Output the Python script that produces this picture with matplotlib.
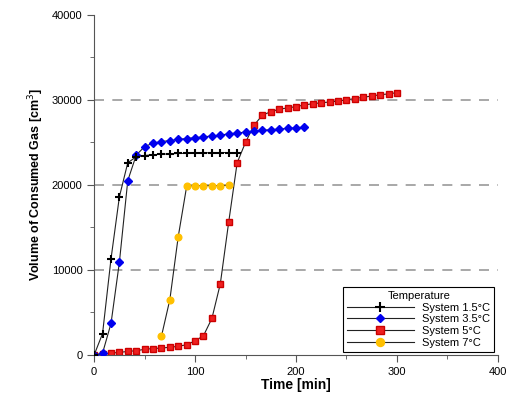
import matplotlib
matplotlib.use("Agg")
import matplotlib.pyplot as plt
from matplotlib.ticker import MultipleLocator
import numpy as np

plt.rcParams['font.family'] = ['Liberation Sans', 'DejaVu Sans']

# time axis, one reading about every 8.3 min
t_15 = [0, 8.3, 16.7, 25, 33.3, 41.7, 50, 58.3, 66.7, 75, 83.3, 91.7, 100, 108.3,
        116.7, 125, 133.3, 141.7]
v_15 = [0, 2500, 11300, 18600, 22600, 23300, 23450, 23550, 23600, 23650, 23700,
        23700, 23750, 23750, 23800, 23800, 23800, 23800]

t_35 = [0, 8.3, 16.7, 25, 33.3, 41.7, 50, 58.3, 66.7, 75, 83.3, 91.7, 100, 108.3,
        116.7, 125, 133.3, 141.7, 150, 158.3, 166.7, 175, 183.3, 191.7, 200, 208.3]
v_35 = [0, 200, 3700, 10900, 20500, 23500, 24500, 24900, 25100, 25200, 25350, 25450,
        25550, 25650, 25750, 25850, 26000, 26100, 26200, 26300, 26400, 26500, 26550,
        26650, 26700, 26800]

t_5 = [0, 8.3, 16.7, 25, 33.3, 41.7, 50, 58.3, 66.7, 75, 83.3, 91.7, 100, 108.3,
       116.7, 125, 133.3, 141.7, 150, 158.3, 166.7, 175, 183.3, 191.7, 200, 208.3,
       216.7, 225, 233.3, 241.7, 250, 258.3, 266.7, 275, 283.3, 291.7, 300]
v_5 = [0, 100, 200, 300, 400, 500, 650, 750, 800, 900, 1000, 1200, 1650, 2250, 4300,
       8350, 15600, 22600, 25000, 27000, 28200, 28600, 28900, 29050, 29200, 29400,
       29550, 29650, 29750, 29850, 30000, 30150, 30300, 30450, 30600, 30700, 30850]

t_7 = [66.7, 75, 83.3, 91.7, 100, 108.3, 116.7, 125, 133.3]
v_7 = [2200, 6500, 13900, 19850, 19900, 19900, 19900, 19900, 19950]

grid_y = [10000, 20000, 30000]

fig = plt.figure(figsize=(5.09, 4.01), dpi=100)
ax = fig.add_axes([0.185, 0.115, 0.793, 0.848])

for gy in grid_y:
    ax.axhline(gy, color='#999999', lw=1.2, dashes=(6, 5), zorder=0)

ax.plot(t_15, v_15, color='#222222', lw=0.8, marker='+', ms=6, mew=1.5,
        mec='black', label='System 1.5\u00b0C', zorder=4)
ax.plot(t_35, v_35, color='#222222', lw=0.8, marker='D', ms=3.8, mfc='#0000ee',
        mec='#0000ee', label='System 3.5\u00b0C', zorder=3)
ax.plot(t_5, v_5, color='#222222', lw=0.8, marker='s', ms=5, mfc='#ee2020',
        mec='#cc0000', label='System 5\u00b0C', zorder=2)
ax.plot(t_7, v_7, color='#222222', lw=0.8, marker='o', ms=4.8, mfc='#ffc000',
        mec='#ffc000', label='System 7\u00b0C', zorder=2)

ax.set_xlim(0, 400)
ax.set_ylim(0, 40000)
ax.xaxis.set_major_locator(MultipleLocator(100))
ax.xaxis.set_minor_locator(MultipleLocator(50))
ax.yaxis.set_major_locator(MultipleLocator(10000))
ax.yaxis.set_minor_locator(MultipleLocator(5000))
ax.tick_params(which='major', direction='out', length=5, labelsize=8, color='#555555')
ax.tick_params(which='minor', direction='out', length=3, color='#555555')
for s in ['top', 'right']:
    ax.spines[s].set_visible(False)
for s in ['left', 'bottom']:
    ax.spines[s].set_color('#555555')

ax.set_xlabel('Time [min]', fontsize=10, fontweight='bold', labelpad=1)
ax.set_ylabel('Volume of Consumed Gas [cm$^3$]', fontsize=9, fontweight='bold', labelpad=4)

leg = ax.legend(title='Temperature', loc='lower right', fontsize=8, title_fontsize=8,
                fancybox=False, edgecolor='black', framealpha=1, handlelength=6,
                borderaxespad=0.3, labelspacing=0.15, borderpad=0.35, markerscale=1.2)
leg.get_frame().set_linewidth(0.8)

fig.savefig('out.png', dpi=100)
